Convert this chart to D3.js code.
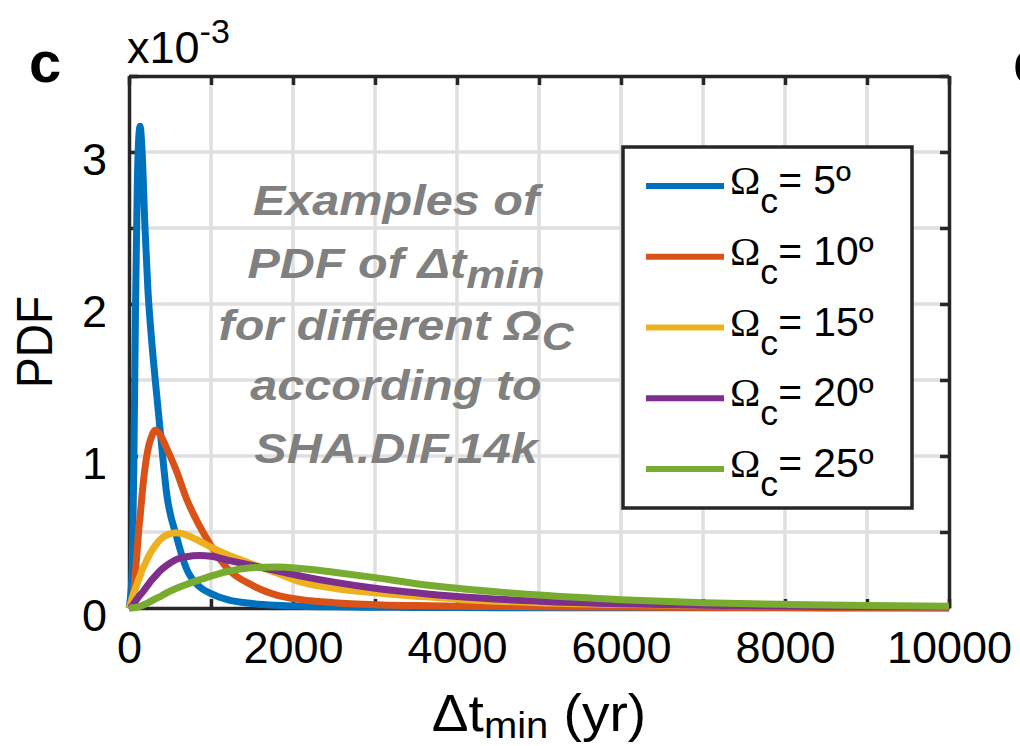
<!DOCTYPE html>
<html>
<head>
<meta charset="utf-8">
<script src="https://cdn.jsdelivr.net/npm/d3@7"></script>
<style>
  body { margin: 0; background: #fff; }
  svg { display: block; font-family: "Liberation Sans", Arial, sans-serif; }
</style>
</head>
<body>
<div id="chart"></div>
<script>
// PDF values are in units of 1e-3
var years = [0, 20, 40, 60, 80, 100, 120, 135, 160, 195, 230, 270, 320, 380, 460, 580, 700, 860,
  1000, 1200, 1500, 1800, 2100, 2500, 3000, 3500, 4000, 5000, 6000, 7000, 8000, 9000, 10000];
var pdf5  = [0, 0.08, 0.27, 1.0, 2.0, 2.75, 3.1, 3.17, 3.0, 2.5, 2.1, 1.8, 1.5, 1.17, 0.75, 0.47, 0.26, 0.14,
  0.095, 0.055, 0.03, 0.018, 0.012, 0.008, 0.005, 0.004, 0.003, 0.002, 0.001, 0.001, 0.001, 0, 0];
var pdf10 = [0, 0.01, 0.05, 0.12, 0.25, 0.38, 0.52, 0.6, 0.75, 0.92, 1.04, 1.12, 1.17, 1.14, 1.05, 0.9, 0.72, 0.54,
  0.41, 0.26, 0.15, 0.085, 0.055, 0.035, 0.022, 0.016, 0.012, 0.008, 0.006, 0.004, 0.003, 0.003, 0.002];
var pdf15 = [0, 0.03, 0.07, 0.1, 0.13, 0.16, 0.19, 0.21, 0.25, 0.29, 0.33, 0.37, 0.41, 0.45, 0.48, 0.495, 0.48, 0.44,
  0.4, 0.35, 0.29, 0.23, 0.17, 0.13, 0.1, 0.078, 0.058, 0.035, 0.024, 0.017, 0.012, 0.009, 0.007];
var pdf20 = [0, 0.005, 0.015, 0.03, 0.045, 0.06, 0.075, 0.085, 0.1, 0.125, 0.15, 0.18, 0.21, 0.245, 0.28, 0.32, 0.337, 0.345,
  0.34, 0.315, 0.28, 0.245, 0.21, 0.17, 0.13, 0.1, 0.075, 0.045, 0.028, 0.018, 0.012, 0.009, 0.007];
var pdf25 = [0, 0, 0.001, 0.002, 0.004, 0.006, 0.009, 0.012, 0.017, 0.025, 0.034, 0.045, 0.06, 0.075, 0.1, 0.13, 0.155, 0.185,
  0.21, 0.24, 0.265, 0.27, 0.26, 0.235, 0.2, 0.16, 0.13, 0.085, 0.055, 0.035, 0.024, 0.016, 0.012];

var seriesValues = [pdf5, pdf10, pdf15, pdf20, pdf25];
var legendLabels = ["= 5º", "= 10º", "= 15º", "= 20º", "= 25º"];
var colors = ["#0072BD", "#D95319", "#EDB120", "#7E2F8E", "#77AC30"];

var xTicks = [0, 1000, 2000, 3000, 4000, 5000, 6000, 7000, 8000, 9000, 10000];
var xTickLabels = ["0", "", "2000", "", "4000", "", "6000", "", "8000", "", "10000"];
var yTicks = [0, 0.5, 1, 1.5, 2, 2.5, 3, 3.5];
var yTickLabels = ["0", "", "1", "", "2", "", "3", ""];

var W = 1020, H = 746;
var margin = {left: 129, right: W - 949, top: 76, bottom: H - 608};
var axisColor = "#262626";

var svg = d3.select("#chart").append("svg")
    .attr("width", W)
    .attr("height", H);

var x = d3.scaleLinear().domain([0, 10000]).range([margin.left, W - margin.right]);
var y = d3.scaleLinear().domain([0, 3.5]).range([H - margin.bottom, margin.top]);

// grid
svg.append("g").selectAll("line").data(xTicks.slice(1, -1)).enter().append("line")
    .attr("x1", function(d) { return x(d); }).attr("x2", function(d) { return x(d); })
    .attr("y1", y(0)).attr("y2", y(3.5))
    .attr("stroke", "#dfdfdf").attr("stroke-width", 3.5);
svg.append("g").selectAll("line").data(yTicks.slice(1, -1)).enter().append("line")
    .attr("y1", function(d) { return y(d); }).attr("y2", function(d) { return y(d); })
    .attr("x1", x(0)).attr("x2", x(10000))
    .attr("stroke", "#dfdfdf").attr("stroke-width", 3.5);

// axes (ticks inward on all four sides)
function styleAxis(g) {
  g.selectAll("path.domain").attr("stroke", axisColor).attr("stroke-width", 3.5);
  g.selectAll(".tick line").attr("stroke", axisColor).attr("stroke-width", 3.5);
  g.selectAll("text").attr("fill", "#000").style("font-size", "45px")
    .style("font-family", "'Liberation Sans', Arial, sans-serif");
}

var gx = svg.append("g")
    .attr("transform", "translate(0," + y(0) + ")")
    .call(d3.axisBottom(x).tickValues(xTicks).tickSizeInner(-9).tickSizeOuter(0)
      .tickFormat(function(d, i) { return xTickLabels[i]; }));
styleAxis(gx);
gx.selectAll("text").attr("y", 55).attr("dy", 0);

var gxTop = svg.append("g")
    .attr("transform", "translate(0," + y(3.5) + ")")
    .call(d3.axisTop(x).tickValues(xTicks).tickSizeInner(-9).tickSizeOuter(0).tickFormat(""));
styleAxis(gxTop);

var gy = svg.append("g")
    .attr("transform", "translate(" + x(0) + ",0)")
    .call(d3.axisLeft(y).tickValues(yTicks).tickSizeInner(-9).tickSizeOuter(0).tickPadding(22)
      .tickFormat(function(d, i) { return yTickLabels[i]; }));
styleAxis(gy);
gy.selectAll("text").attr("dy", "0.49em");

var gyRight = svg.append("g")
    .attr("transform", "translate(" + x(10000) + ",0)")
    .call(d3.axisRight(y).tickValues(yTicks).tickSizeInner(-9).tickSizeOuter(0).tickFormat(""));
styleAxis(gyRight);

// exponent
var expo = svg.append("text")
    .attr("x", 127).attr("y", 63)
    .style("font-size", "45px")
    .text("x10");
expo.append("tspan").attr("dy", -20).style("font-size", "34px").text("-3");

// axis labels
svg.append("g")
    .attr("transform", "translate(52," + ((margin.top + H - margin.bottom) / 2) + ") scale(1.08,1) rotate(-90)")
  .append("text")
    .attr("text-anchor", "middle")
    .style("font-size", "46px")
    .text("PDF");

var xl = svg.append("g")
    .attr("transform", "translate(" + ((margin.left + W - margin.right) / 2) + ",731) scale(1.08,1)")
  .append("text")
    .attr("text-anchor", "middle")
    .style("font-size", "51px");
xl.append("tspan").text("Δt");
xl.append("tspan").attr("dy", 7).style("font-size", "37px").text("min");
xl.append("tspan").attr("dy", -7).text(" (yr)");

// panel letters (d belongs to the next panel and is cut by the edge)
svg.append("text").attr("x", 29).attr("y", 82)
    .style("font-size", "58px").style("font-weight", "bold").text("c");
svg.append("text").attr("x", 1013).attr("y", 82)
    .style("font-size", "58px").style("font-weight", "bold").text("d");

// annotation
var note = svg.append("g")
    .attr("transform", "translate(396,0) scale(1.13,1)")
    .attr("fill", "#808080")
    .style("font-size", "43px").style("font-weight", "bold").style("font-style", "italic");
note.append("text").attr("text-anchor", "middle").attr("y", 215).text("Examples of");
var n2 = note.append("text").attr("text-anchor", "middle").attr("y", 278);
n2.append("tspan").text("PDF of Δt");
n2.append("tspan").attr("dy", 10).style("font-size", "39px").text("min");
var n3 = note.append("text").attr("text-anchor", "middle").attr("y", 340);
n3.append("tspan").text("for different Ω");
n3.append("tspan").attr("dy", 10).style("font-size", "39px").text("C");
note.append("text").attr("text-anchor", "middle").attr("y", 400).text("according to");
note.append("text").attr("text-anchor", "middle").attr("y", 463).text("SHA.DIF.14k");

// curves
var line = d3.line()
    .x(function(d) { return x(d[0]); })
    .y(function(d) { return y(d[1]); })
    .curve(d3.curveMonotoneX);

seriesValues.forEach(function(vals, i) {
  svg.append("path")
    .datum(years.map(function(t, j) { return [t, vals[j]]; }))
    .attr("fill", "none")
    .attr("stroke", colors[i])
    .attr("stroke-width", 7)
    .attr("stroke-linejoin", "round")
    .attr("d", line);
});

// legend
var legX = 623, legY = 147, legW = 289, legH = 361;
var rowY0 = 186, rowStep = 70.75;
svg.append("rect")
    .attr("x", legX).attr("y", legY).attr("width", legW).attr("height", legH)
    .attr("fill", "#fff").attr("stroke", axisColor).attr("stroke-width", 3.5);

legendLabels.forEach(function(lab, i) {
  var ry = rowY0 + i * rowStep;
  svg.append("line")
    .attr("x1", 646).attr("x2", 724).attr("y1", ry).attr("y2", ry)
    .attr("stroke", colors[i]).attr("stroke-width", 6);
  var t = svg.append("g").attr("transform", "translate(730," + (ry + 8) + ") scale(1.02,1)")
    .append("text").style("font-size", "40px");
  t.append("tspan").style("font-family", "'Liberation Serif', 'Times New Roman', serif").text("Ω");
  t.append("tspan").attr("dy", 19).style("font-size", "35px").text("c");
  t.append("tspan").attr("dy", -19).text(lab);
});
</script>
</body>
</html>
